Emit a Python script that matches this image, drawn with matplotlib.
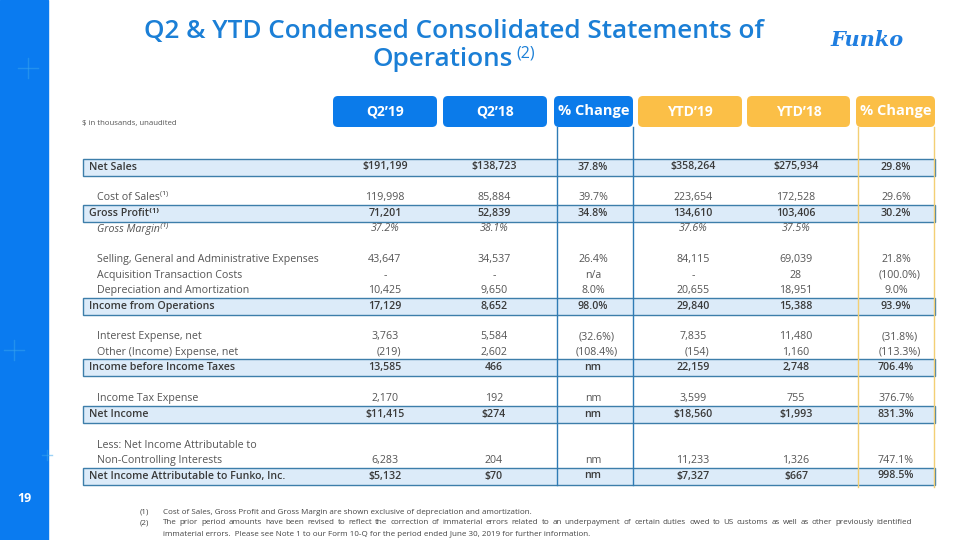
# Funko Q2 & YTD condensed statements of operations, redrawn as a table slide
import matplotlib.pyplot as plt
from matplotlib.patches import FancyBboxPatch, Rectangle

# Table data
headers = ['Q2\u201919', 'Q2\u201918', '% Change', 'YTD\u201919', 'YTD\u201918', '% Change']
labels = ['Net Sales', 'Cost of Sales\u207d\u00b9\u207e', 'Gross Profit\u207d\u00b9\u207e', 'Gross Margin\u207d\u00b9\u207e',
          'Selling, General and Administrative Expenses', 'Acquisition Transaction Costs',
          'Depreciation and Amortization', 'Income from Operations', 'Interest Expense, net',
          'Other (Income) Expense, net', 'Income before Income Taxes', 'Income Tax Expense',
          'Net Income', 'Less: Net Income Attributable to', 'Non-Controlling Interests',
          'Net Income Attributable to Funko, Inc.']
kinds = ['total', 'item', 'total', 'italic', 'item', 'item', 'item', 'total', 'item', 'item',
         'total', 'item', 'total', 'item', 'item', 'total']
q2_19 = ['$191,199', '119,998', '71,201', '37.2%', '43,647', '-', '10,425', '17,129', '3,763',
         '(219)', '13,585', '2,170', '$11,415', '', '6,283', '$5,132']
q2_18 = ['$138,723', '85,884', '52,839', '38.1%', '34,537', '-', '9,650', '8,652', '5,584',
         '2,602', '466', '192', '$274', '', '204', '$70']
q2_chg = ['37.8%', '39.7%', '34.8%', '', '26.4%', 'n/a', '8.0%', '98.0%', '(32.6%)',
          '(108.4%)', 'nm', 'nm', 'nm', '', 'nm', 'nm']
ytd_19 = ['$358,264', '223,654', '134,610', '37.6%', '84,115', '-', '20,655', '29,840', '7,835',
          '(154)', '22,159', '3,599', '$18,560', '', '11,233', '$7,327']
ytd_18 = ['$275,934', '172,528', '103,406', '37.5%', '69,039', '28', '18,951', '15,388', '11,480',
          '1,160', '2,748', '755', '$1,993', '', '1,326', '$667']
ytd_chg = ['29.8%', '29.6%', '30.2%', '', '21.8%', '(100.0%)', '9.0%', '93.9%', '(31.8%)',
           '(113.3%)', '706.4%', '376.7%', '831.3%', '', '747.1%', '998.5%']
footnotes = [
    ('(1)', 'Cost of Sales, Gross Profit and Gross Margin are shown exclusive of depreciation and amortization.'),
    ('(2)', 'The prior period amounts have been revised to reflect the correction of immaterial errors related to an '
            'underpayment of certain duties owed to US customs as well as other previously identified'),
    ('', 'immaterial errors.  Please see Note 1 to our Form 10-Q for the period ended June 30, 2019 for further information.'),
]

# layout (pixels on a 960x540 canvas)
slots = [0, 2, 3, 4, 6, 7, 8, 9, 11, 12, 13, 15, 16, 18, 19, 20]
row0, step = 167, 15.45
box_x = [333, 443, 554, 638, 747, 856]
box_w = [104, 104, 79, 104, 103, 79]
blue, gold = '#0b7bea', '#fbbf47'
fonts = ['Open Sans', 'DejaVu Sans']

fig = plt.figure(figsize=(9.6, 5.4), dpi=100)
ax = fig.add_axes([0, 0, 1, 1])
ax.set_xlim(0, 960)
ax.set_ylim(540, 0)
ax.axis('off')

# side bar with faint sparkles and page number
ax.add_patch(Rectangle((0, 0), 48, 540, color='#0a7bf0', zorder=1))
for sx, sy, s in [(28, 68, 10), (14, 350, 10), (47, 455, 5)]:
    ax.plot([sx - s, sx + s], [sy, sy], color='#3aa6ee', lw=1.0, alpha=0.5, zorder=2)
    ax.plot([sx, sx], [sy - s, sy + s], color='#3aa6ee', lw=1.0, alpha=0.5, zorder=2)
ax.text(24, 499, '19', color='white', fontsize=9, fontweight='bold', ha='center', va='center',
        family=fonts, zorder=3)

# title
title_c = '#1b7fd6'
ax.text(454, 31, 'Q2 & YTD Condensed Consolidated Statements of', color=title_c, fontsize=18.8,
        fontweight='semibold', ha='center', va='center', family=fonts)
ax.text(513, 60, 'Operations', color=title_c, fontsize=18.8, fontweight='semibold',
        ha='right', va='center', family=fonts)
ax.text(516, 54, '(2)', color=title_c, fontsize=11.5, ha='left', va='center', family=fonts)

# logo
ax.text(867, 40, 'Funko', color='#1f7ee0', fontsize=15, fontweight='bold', style='italic',
        ha='center', va='center', family=['DejaVu Serif'])

ax.text(82, 123, '$ in thousands, unaudited', color='#555555', fontsize=5.6, ha='left', va='center',
        family=fonts)

# header boxes
for i, h in enumerate(headers):
    col = blue if i < 3 else gold
    ax.add_patch(FancyBboxPatch((box_x[i], 96), box_w[i], 31, boxstyle='round,pad=0,rounding_size=5',
                                facecolor=col, edgecolor='none', zorder=3))
    fs = 10.5 if 'Change' in h else 10
    ax.text(box_x[i] + box_w[i] / 2, 111.5, h, color='white', fontsize=fs, fontweight='bold',
            ha='center', va='center', family=fonts, zorder=4)

# highlighted total rows
bottom = row0 + step * slots[-1] + 9
for lab, kind, sl in zip(labels, kinds, slots):
    if kind == 'total':
        y = row0 + step * sl
        ax.add_patch(Rectangle((83, y - 8.5), 852, 17, facecolor='#dcebf9', edgecolor='#3d7eaa',
                               lw=1.0, zorder=2))

# column guide lines for the % change columns
for x in (557, 633):
    ax.plot([x, x], [127, bottom], color='#2f7bb5', lw=1.0, zorder=2.5)
for x in (858, 934):
    ax.plot([x, x], [127, bottom + 2], color='#f3cf74', lw=1.0, zorder=2.5)

# rows
centers = [385, 494, 593, 693, 796, 896]
columns = [q2_19, q2_18, q2_chg, ytd_19, ytd_18, ytd_chg]
for r, (lab, kind, sl) in enumerate(zip(labels, kinds, slots)):
    y = row0 + step * sl
    if kind == 'total':
        opts = dict(color='#3a3a3a', fontweight='semibold', style='normal')
        lx = 89
    elif kind == 'italic':
        opts = dict(color='#555555', fontweight='normal', style='italic')
        lx = 97
    else:
        opts = dict(color='#555555', fontweight='normal', style='normal')
        lx = 97
    ax.text(lx, y, lab, fontsize=7.7, ha='left', va='center', family=fonts, zorder=4, **opts)
    for cx, vals in zip(centers, columns):
        v = vals[r]
        if v.startswith('('):
            cx += 4
        ax.text(cx, y, v, fontsize=7.7, ha='center', va='center', family=fonts, zorder=4, **opts)

# footnotes (the long line is justified to the right margin, like the slide)
renderer = fig.canvas.get_renderer()
fn = dict(fontsize=5.8, color='#444444', ha='left', va='center', family=fonts)
for k, (mark, txt) in enumerate(footnotes):
    y = 512 + 11 * k
    ax.text(140, y, mark, **fn)
    if k == 1:
        words = txt.split()
        widths = []
        for w in words:
            t = ax.text(0, 0, w, **fn)
            widths.append(t.get_window_extent(renderer).width)
            t.remove()
        gap = (912 - 163 - sum(widths)) / (len(words) - 1)
        x = 163
        for w, wd in zip(words, widths):
            ax.text(x, y, w, **fn)
            x += wd + gap
    else:
        ax.text(163, y, txt, **fn)

fig.savefig('out.png', dpi=100)
